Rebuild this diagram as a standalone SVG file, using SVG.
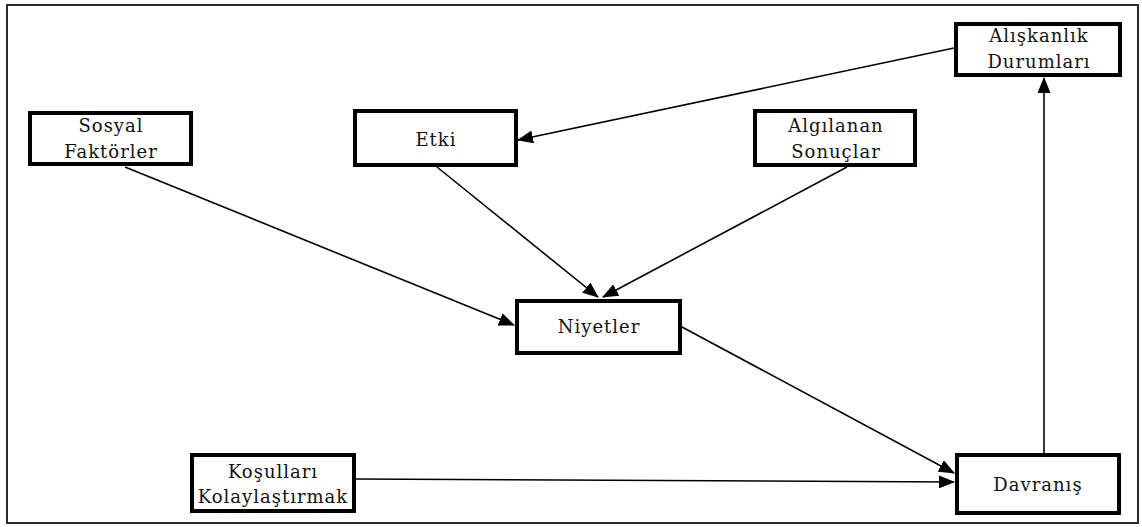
<svg xmlns="http://www.w3.org/2000/svg" width="1142" height="527" viewBox="0 0 1142 527">
  <style>
    .frame { fill: #ffffff; stroke: #2a2a2a; stroke-width: 2; }
    .box { fill: #ffffff; stroke: #000000; stroke-width: 4; }
    .label { font-family: "DejaVu Serif", serif; font-size: 18px; letter-spacing: 1px; fill: #111111; text-anchor: middle; }
    .edge { fill: none; stroke: #000000; stroke-width: 1.6; marker-end: url(#arrow); }
  </style>
  <defs>
    <marker id="arrow" markerUnits="userSpaceOnUse" markerWidth="16" markerHeight="13" refX="15" refY="6.5" orient="auto">
      <path d="M0,0 L16,6.5 L0,13 Z" fill="#000000"/>
    </marker>
  </defs>

  <rect width="1142" height="527" fill="#ffffff"/>
  <!-- outer frame -->
  <rect class="frame" x="7" y="5" width="1131" height="518"/>

  <!-- connectors -->
  <g id="connectors">
    <line class="edge" x1="125" y1="167" x2="514" y2="325"/>
    <line class="edge" x1="437" y1="167" x2="598" y2="297"/>
    <line class="edge" x1="847" y1="167" x2="603" y2="297"/>
    <line class="edge" x1="954" y1="48" x2="518" y2="140"/>
    <line class="edge" x1="682" y1="327" x2="954" y2="473"/>
    <line class="edge" x1="356" y1="479" x2="954" y2="482"/>
    <line class="edge" x1="1044" y1="453" x2="1044" y2="78"/>
  </g>

  <g id="sosyal-faktorler">
    <rect class="box" x="30" y="113" width="161" height="51"/>
    <text class="label" x="111" y="132">Sosyal</text>
    <text class="label" x="111" y="158">Faktörler</text>
  </g>

  <g id="etki">
    <rect class="box" x="355" y="111" width="161" height="54"/>
    <text class="label" x="436" y="146">Etki</text>
  </g>

  <g id="algilanan-sonuclar">
    <rect class="box" x="755" y="111" width="160" height="54"/>
    <text class="label" x="836" y="132">Algılanan</text>
    <text class="label" x="836" y="158">Sonuçlar</text>
  </g>

  <g id="aliskanlik-durumlari">
    <rect class="box" x="956" y="24" width="164" height="51"/>
    <text class="label" x="1039" y="42">Alışkanlık</text>
    <text class="label" x="1039" y="68">Durumları</text>
  </g>

  <g id="niyetler">
    <rect class="box" x="517" y="301" width="163" height="52"/>
    <text class="label" x="599" y="333">Niyetler</text>
  </g>

  <g id="kosullari-kolaylastirmak">
    <rect class="box" x="192" y="455" width="162" height="56"/>
    <text class="label" x="273" y="478">Koşulları</text>
    <text class="label" x="273" y="503">Kolaylaştırmak</text>
  </g>

  <g id="davranis">
    <rect class="box" x="957" y="455" width="162" height="58"/>
    <text class="label" x="1038" y="491">Davranış</text>
  </g>
</svg>
